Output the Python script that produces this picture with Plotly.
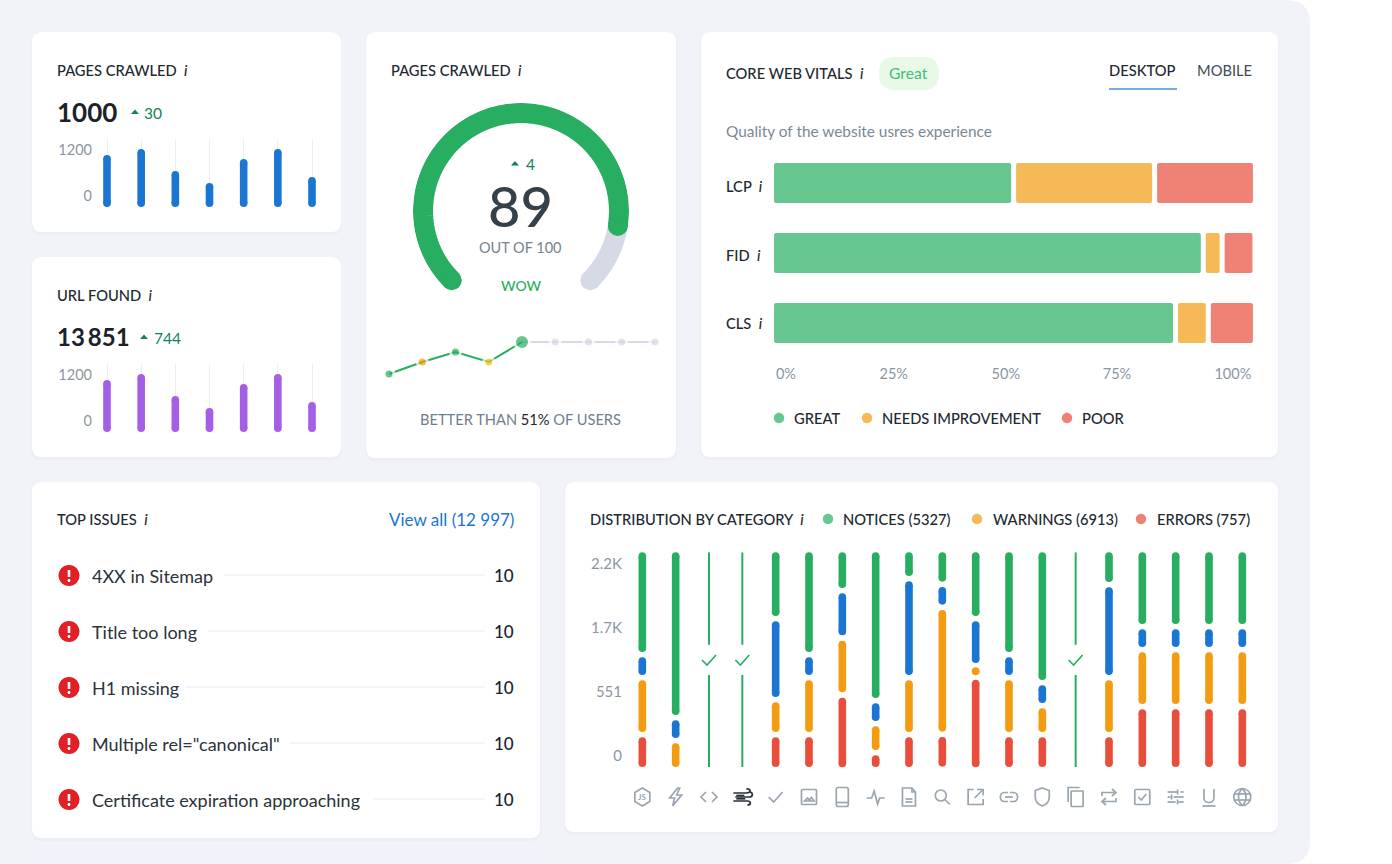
import re
import numpy as np
import plotly.graph_objects as go

# ---------- data ----------
MINI_DAYS = [1, 2, 3, 4, 5, 6, 7]
PAGES_VALUES = [1076, 1200, 745, 497, 993, 1200, 620]
URL_VALUES = [1076, 1200, 745, 497, 993, 1200, 620]
MINI_TICKTEXT = ["0", "1200"]

GAUGE_SCORE = 89
GAUGE_ARC_VALUE = 86.6
SPARK_SCORES = [57, 69, 79, 69, 89, 89, 89, 89, 89]
SPARK_COLORS = ["#27ae60", "#ff9800", "#27ae60", "#f7c20f", "#27ae60", "#d5dae6", "#d5dae6", "#d5dae6", "#d5dae6"]

VITAL_NAMES = ["LCP", "FID", "CLS"]
VITAL_GREAT = [49.5, 89.1, 83.3]
VITAL_NEEDS = [28.4, 2.9, 5.8]
VITAL_POOR = [20.0, 5.8, 8.8]
VITAL_TICKTEXT = ["0%", "25%", "50%", "75%", "100%"]

ISSUE_NAMES = ["4XX in Sitemap", "Title too long", "H1 missing", 'Multiple rel="canonical"', "Certificate expiration approaching"]
ISSUE_COUNTS = [10, 10, 10, 10, 10]

DIST_NOTICES = [299, 488, 0, 0, 191, 299, 107, 437, 71, 88, 191, 299, 383, 0, 89, 215, 215, 215, 215]
DIST_INFO = [53, 53, 0, 0, 227, 53, 126, 53, 281, 53, 125, 53, 53, 0, 263, 53, 53, 53, 53]
DIST_WARNINGS = [155, 71, 0, 0, 89, 155, 155, 71, 155, 365, 18, 155, 71, 0, 155, 155, 155, 155, 155]
DIST_ERRORS = [89, 0, 0, 0, 89, 89, 209, 35, 89, 89, 263, 89, 89, 0, 89, 173, 173, 173, 173]
DIST_PASSED = [2, 3, 13]
DIST_TICKTEXT = ["0", "551", "1.7K", "2.2K"]

# ---------- style ----------
W, H = 1392, 864
FONT = "Lato"
DARK = "#21282f"
GREY = "#8a96a3"
GREEN, BLUE, ORANGE, RED = "#27ae60", "#1a76d2", "#f39c12", "#e94e3d"
SOFT_G, SOFT_O, SOFT_R = "#68c690", "#f6b957", "#f08275"
ARROW = "#15805a"
CAPS = 14.7

fx = lambda x: x / W
fy = lambda y: 1 - y / H

shapes, annos, traces, axes = [], [], [], {}


def to_paper(d, dx=0.0, dy=0.0):
    out, is_x = [], True
    for tok in re.findall(r"[MLCQZ]|-?\d+\.?\d*", d):
        if tok in "MLCQZ":
            out.append(tok)
            is_x = True
        else:
            v = float(tok)
            out.append(f"{fx(v + dx):.6f}," if is_x else f"{fy(v + dy):.6f} ")
            is_x = not is_x
    return "".join(out)


def add_path(d, dx=0, dy=0, fill=None, line=None, lw=1.5, opacity=1):
    s = dict(type="path", path=to_paper(d, dx, dy), xref="paper", yref="paper", layer="below", opacity=opacity)
    s["fillcolor"] = fill if fill else "rgba(0,0,0,0)"
    s["line"] = dict(color=line, width=lw) if line else dict(width=0)
    shapes.append(s)


def rr(x0, y0, x1, y1, r):
    return (f"M{x0+r} {y0} L{x1-r} {y0} Q{x1} {y0} {x1} {y0+r} L{x1} {y1-r} Q{x1} {y1} {x1-r} {y1} "
            f"L{x0+r} {y1} Q{x0} {y1} {x0} {y1-r} L{x0} {y0+r} Q{x0} {y0} {x0+r} {y0} Z")


def circ(cx, cy, r):
    k = 0.5523 * r
    return (f"M{cx-r} {cy} C{cx-r} {cy-k} {cx-k} {cy-r} {cx} {cy-r} C{cx+k} {cy-r} {cx+r} {cy-k} {cx+r} {cy} "
            f"C{cx+r} {cy+k} {cx+k} {cy+r} {cx} {cy+r} C{cx-k} {cy+r} {cx-r} {cy+k} {cx-r} {cy} Z")


def text(x, y, s, size=14, color=DARK, anchor="left", weight=None, family=FONT):
    f = dict(family=family, size=size, color=color)
    if weight:
        f["weight"] = weight
    annos.append(dict(x=fx(x), y=fy(y - 0.2), xref="paper", yref="paper", text=s, showarrow=False, font=f,
                      xanchor=anchor, yanchor="middle", borderpad=0, borderwidth=0))


def axes_pair(n, x0, x1, y0, y1, xopts, yopts):
    sfx = "" if n == 1 else str(n)
    axes["xaxis" + sfx] = dict(domain=[fx(x0), fx(x1)], anchor="y" + sfx, zeroline=False, showline=False, **xopts)
    axes["yaxis" + sfx] = dict(domain=[fy(y1), fy(y0)], anchor="x" + sfx, zeroline=False, showline=False, **yopts)
    return "x" + sfx, "y" + sfx


def pill_trace(xs, spans, color, width, unit_per_px, xa, ya):
    r = width / 2 * unit_per_px
    X, Y = [], []
    for x, (lo, hi) in zip(xs, spans):
        a, b = lo + r, hi - r
        if a > b:
            a = b = (lo + hi) / 2
        X += [x, x, None]
        Y += [a, b, None]
    traces.append(go.Scatter(x=X, y=Y, xaxis=xa, yaxis=ya, mode="lines+markers", cliponaxis=False,
                             line=dict(color=color, width=width),
                             marker=dict(color=color, size=width, line=dict(width=0)),
                             hoverinfo="skip", showlegend=False))


INFO = '&nbsp;&nbsp;<i>i</i>'

# ---------- background and cards ----------
add_path("M0 0 L1286 0 Q1310 0 1310 24 L1310 840 Q1310 864 1286 864 L0 864 Z", fill="#f1f3f9")
for c in [(32, 32, 341, 232), (32, 257, 341, 457), (366, 32, 676, 458), (701, 32, 1278, 457),
          (32, 482, 540, 838), (565, 482, 1278, 832)]:
    add_path(rr(c[0] - 1, c[1], c[2] + 1, c[3] + 3, 11), fill="#e9ecf4", opacity=0.7)
    add_path(rr(*c, 10), fill="#ffffff")


# ---------- mini bar cards ----------
def tri(cx, cy):
    add_path(f"M{cx-4} {cy+2} L{cx} {cy-2.5} L{cx+4} {cy+2} Z", fill=ARROW)


def mini(n, top, title, big, big_size, delta, arrow_x, delta_x, values, color):
    text(57, top + 38.5, title + INFO, CAPS, DARK, weight=500)
    text(57, top + 80, big, big_size, "#1b2229", weight=700)
    tri(arrow_x, top + 80)
    text(delta_x, top + 81, delta, 15.5, ARROW)
    per_px = 1200 / 58
    xa, ya = axes_pair(
        n, 100, 320, top + 107, top + 175,
        dict(range=[-0.205, 6.234], tickvals=list(range(7)), showgrid=True, gridcolor="#eceef4", gridwidth=1,
             showticklabels=False, ticks=""),
        dict(range=[0, 68 * per_px], tickvals=[228, 1180], ticktext=MINI_TICKTEXT, showgrid=False, ticks="",
             ticklabelstandoff=7, tickfont=dict(family=FONT, size=14.5, color=GREY)))
    pill_trace(list(range(7)), [(0, v) for v in values], color, 7.6, per_px, xa, ya)


mini(1, 32, "PAGES CRAWLED", "1000", 26, "30", 135, 144, PAGES_VALUES, BLUE)
mini(2, 257, "URL FOUND", "13\u2009851", 24, "744", 144, 154, URL_VALUES, "#a55fe6")

# ---------- gauge ----------
text(391, 70, "PAGES CRAWLED" + INFO, CAPS, DARK, weight=500)
arc = lambda v: (-135 + np.linspace(0, v, max(int(v * 1.5), 2)) * 2.7).tolist()
for v, col in [(100, "#d5dae6"), (GAUGE_ARC_VALUE, GREEN)]:
    th = arc(v)
    traces.append(go.Scatterpolar(theta=th, r=[98] * len(th), mode="lines", line=dict(color=col, width=20),
                                  subplot="polar", hoverinfo="skip", showlegend=False))
    traces.append(go.Scatterpolar(theta=[th[0], th[-1]], r=[98, 98], mode="markers",
                                  marker=dict(color=col, size=20, line=dict(width=0)),
                                  subplot="polar", hoverinfo="skip", showlegend=False))
tri(515, 163.5)
text(526, 164, "4", 15.5, ARROW, "left")
text(520.5, 205.5, str(GAUGE_SCORE), 56, "#364049", "center", weight=500)
text(520.5, 247.5, "OUT OF 100", 14.5, "#76838f", "center")
text(520.5, 286, "WOW", 14, GREEN, "center", weight=500)

xa, ya = axes_pair(3, 381, 663, 330, 385,
                   dict(range=[-8 / 33.25, 8 + 8 / 33.25], visible=False),
                   dict(range=[46, 101], visible=False))
traces.append(go.Scatter(x=list(range(4, 9)), y=SPARK_SCORES[4:], xaxis=xa, yaxis=ya, mode="lines",
                         line=dict(color="#d5dae6", width=2), hoverinfo="skip", showlegend=False))
traces.append(go.Scatter(x=list(range(5)), y=SPARK_SCORES[:5], xaxis=xa, yaxis=ya, mode="lines",
                         line=dict(color=GREEN, width=2), hoverinfo="skip", showlegend=False))
traces.append(go.Scatter(x=list(range(9)), y=SPARK_SCORES, xaxis=xa, yaxis=ya, mode="markers",
                         marker=dict(color=SPARK_COLORS, size=[10, 10, 10, 10, 15, 10, 10, 10, 10],
                                     line=dict(color="#ffffff", width=3)),
                         hoverinfo="skip", showlegend=False))
text(520.5, 420, 'BETTER THAN <span style="color:#1f262d">51%</span> OF USERS', 14.65, "#6f7f8c", "center")

# ---------- core web vitals ----------
text(726, 73, "CORE WEB VITALS" + INFO, CAPS, DARK, weight=500)
add_path(rr(879, 57, 939, 90, 16), fill="#e9f9e7")
text(908.5, 73, "Great", 15.7, "#41bd7a", "center")
text(1109, 70, "DESKTOP", CAPS, DARK, weight=500)
text(1197, 70, "MOBILE", CAPS, "#3f4b55")
add_path("M1109 89 L1177 89", line="#4a90e2", lw=1.5)
text(726, 131, "Quality of the website usres experience", 15.4, "#7b8894")

GAP = 1.04
xa, ya = axes_pair(4, 774, 1253, 148, 358,
                   dict(range=[0, 100], tickvals=[2.5, 25, 48.4, 71.6, 95.8], ticktext=VITAL_TICKTEXT, showgrid=False,
                        ticks="", ticklabelstandoff=5, tickfont=dict(family=FONT, size=14.5, color=GREY)),
                   dict(type="category", categoryorder="array", categoryarray=VITAL_NAMES, range=[2.5, -0.5],
                        showticklabels=False, showgrid=False, ticks=""))
base = [0.0, 0.0, 0.0]
for vals, col in [(VITAL_GREAT, SOFT_G), (VITAL_NEEDS, SOFT_O), (VITAL_POOR, SOFT_R)]:
    traces.append(go.Bar(y=VITAL_NAMES, x=vals, base=base, orientation="h", width=40 / 70, xaxis=xa, yaxis=ya,
                         marker=dict(color=col, line=dict(width=0), cornerradius=2),
                         hoverinfo="skip", showlegend=False))
    base = [b + v + GAP for b, v in zip(base, vals)]
for name, y in zip(VITAL_NAMES, [186, 255, 323]):
    text(726, y, name + INFO, CAPS, DARK, weight=500)
for x, lab_x, lab, col in [(779, 794, "GREAT", SOFT_G), (867, 882, "NEEDS IMPROVEMENT", SOFT_O), (1067, 1082, "POOR", SOFT_R)]:
    add_path(circ(x, 418, 5.2), fill=col)
    text(lab_x, 418, lab, CAPS, DARK, weight=500)

# ---------- top issues ----------
text(57, 519, "TOP ISSUES" + INFO, CAPS, DARK, weight=500)
text(514, 520, "View all (12 997)", 17, BLUE, "right")
LINE_STARTS = [224, 208, 186, 290, 373]
for i, (name, cnt, ls) in enumerate(zip(ISSUE_NAMES, ISSUE_COUNTS, LINE_STARTS)):
    y = 576 + 56 * i
    add_path(circ(69, y - 0.5, 10.5), fill="#e01f26")
    add_path(f"M69 {y-6} L69 {y+1}", line="#ffffff", lw=2.6)
    add_path(circ(69, y + 4.6, 1.5), fill="#ffffff")
    text(92, y, name, 18, "#2b333b")
    add_path(f"M{ls} {y-1} L485 {y-1}", line="#e8ebf2", lw=1)
    text(514, y, str(cnt), 17, "#1b2229", "right", weight=500)

# ---------- distribution ----------
text(590, 519, "DISTRIBUTION BY CATEGORY" + INFO, CAPS, DARK, weight=500)
for x, lab_x, lab, col in [(828, 843, "NOTICES (5327)", SOFT_G), (977, 993, "WARNINGS (6913)", SOFT_O),
                           (1141, 1157, "ERRORS (757)", SOFT_R)]:
    add_path(circ(x, 519, 5.2), fill=col)
    text(lab_x, 519, lab, CAPS, DARK, weight=500)

TOTAL, SEG_GAP = 644, 16
xa, ya = axes_pair(5, 630, 1254, 552.33, 767,
                   dict(range=[-12.33 / 33.33, 18 + 11.67 / 33.33], visible=False),
                   dict(range=[0, TOTAL], tickvals=[33, 225, 417, 609], ticktext=DIST_TICKTEXT, showgrid=False, ticks="",
                        ticklabelstandoff=7, tickfont=dict(family=FONT, size=15, color=GREY)))
cols = list(range(19))
spans = {GREEN: [], BLUE: [], ORANGE: [], RED: []}
xs = {GREEN: [], BLUE: [], ORANGE: [], RED: []}
for c in cols:
    if c in DIST_PASSED:
        continue
    top = TOTAL
    for col, series in [(GREEN, DIST_NOTICES), (BLUE, DIST_INFO), (ORANGE, DIST_WARNINGS), (RED, DIST_ERRORS)]:
        v = series[c]
        if v:
            spans[col].append((top - v, top))
            xs[col].append(c)
            top -= v + SEG_GAP
for col in spans:
    pill_trace(xs[col], spans[col], col, 7.6, 3, xa, ya)
tx, ty = [], []
for c in DIST_PASSED:
    tx += [c, c, None, c, c, None]
    ty += [TOTAL, 367, None, 276, 0, None]
traces.append(go.Scatter(x=tx, y=ty, xaxis=xa, yaxis=ya, mode="lines", line=dict(color=GREEN, width=2),
                         hoverinfo="skip", showlegend=False))
for c in DIST_PASSED:
    px = 642.33 + 33.33 * c
    add_path("M-7 0 L-2 5 L7 -5", px, 660, line=GREEN, lw=1.6)

# ---------- category icons ----------
IC = "#99a5b1"
ICONS = [
    ["M0 -9 L7.5 -4.5 L7.5 4.5 L0 9 L-7.5 4.5 L-7.5 -4.5 Z"],
    ["M2 -9 L-6 1 L-1 1 L-3 9 L6 -2 L1 -2 L4 -9 Z"],
    ["M-3 -5 L-8 0 L-3 5", "M3 -5 L8 0 L3 5"],
    [],
    ["M-7 0 L-2 5 L7 -5"],
    [rr(-7.5, -7.5, 7.5, 7.5, 1), "M-4.5 4 L-1.5 1 L0.5 3 L2.5 0.5 L5 4 Z"],
    [rr(-6, -9.5, 6, 9.5, 2), "M-6 5.5 L6 5.5"],
    ["M-9 1 L-4 1 L-1.5 -6 L2 7 L4 1 L9 1"],
    ["M-6.5 -9 L3 -9 L6.5 -5 L6.5 9 L-6.5 9 Z", "M3 -9 L3 -5 L6.5 -5", "M-3.5 2 L3.5 2", "M-3.5 5 L3.5 5"],
    [circ(-1.5, -1.5, 5.5), "M2.5 2.5 L7.5 7.5"],
    ["M7.5 2 L7.5 7.5 L-7.5 7.5 L-7.5 -7.5 L-2 -7.5", "M-1 1 L7.5 -7.5", "M1.5 -7.5 L7.5 -7.5 L7.5 -1.5"],
    ["M-1 -4.5 L-4.5 -4.5 C-10 -4.5 -10 4.5 -4.5 4.5 L-1 4.5", "M1 -4.5 L4.5 -4.5 C10 -4.5 10 4.5 4.5 4.5 L1 4.5", "M-4 0 L4 0"],
    ["M0 -9 L7 -6.5 L7 0 C7 5 4 7.5 0 9 C-4 7.5 -7 5 -7 0 L-7 -6.5 Z"],
    ["M-7.5 5 L-7.5 -9.5 L4 -9.5", rr(-4.5, -6, 7.5, 9.5, 0.6)],
    ["M-7 -1 L-7 -4.5 L6 -4.5", "M3 -8 L7 -4.5 L3 -1", "M7 1 L7 4.5 L-6 4.5", "M-3 1 L-7 4.5 L-3 8"],
    [rr(-7.5, -7.5, 7.5, 7.5, 1), "M-4 0 L-1 3 L4 -3"],
    ["M-8 -5 L2 -5", "M5 -5 L8 -5", "M2 -7.5 L2 -2.5", "M-8 0 L-5 0", "M-2 0 L8 0", "M-4 -2.5 L-4 2.5",
     "M-8 5 L0 5", "M3 5 L8 5", "M2 2.5 L2 7.5"],
    ["M-5 -8 L-5 1 C-5 7 5 7 5 1 L5 -8", "M-6.5 9 L6.5 9"],
    [circ(0, 0, 8.5), "M0 -8.5 C-5 -4 -5 4 0 8.5", "M0 -8.5 C5 -4 5 4 0 8.5", "M-8 -3 L8 -3", "M-8 3 L8 3"],
]
for i, parts in enumerate(ICONS):
    px = 642.33 + 33.33 * i
    for d in parts:
        add_path(d, px, 797, line=IC, lw=1.7)
text(642.33, 797.5, "JS", 8, IC, "center", weight=700)
for d in ["M-9 -4 L4 -4 C9 -4 9 -9 4 -8", "M-7 0 L7 0 C11 0 11 -5 7 -5", "M-9 4 L5 4 C9 4 9 8 5 8", "M-6 -1.5 L2 -1.5", "M-6 1.8 L3 1.8"]:
    add_path(d, 742.33, 797, line="#2a3138", lw=1.7)

# ---------- figure ----------
fig = go.Figure(traces)
fig.update_layout(
    width=W, height=H, margin=dict(l=0, r=0, t=0, b=0, pad=0), autosize=False,
    paper_bgcolor="#ffffff", plot_bgcolor="rgba(0,0,0,0)", showlegend=False, barmode="overlay",
    font=dict(family=FONT), shapes=shapes, annotations=annos,
    polar=dict(domain=dict(x=[fx(521 - 108), fx(521 + 108)], y=[fy(211 + 108), fy(211 - 108)]),
               bgcolor="rgba(0,0,0,0)",
               radialaxis=dict(visible=False, range=[0, 108]),
               angularaxis=dict(visible=False, direction="clockwise", rotation=90)),
    **axes)
fig.write_html("out.html", config=dict(displayModeBar=False),
               post_script="document.body.style.margin='0';document.body.style.overflow='hidden';")
